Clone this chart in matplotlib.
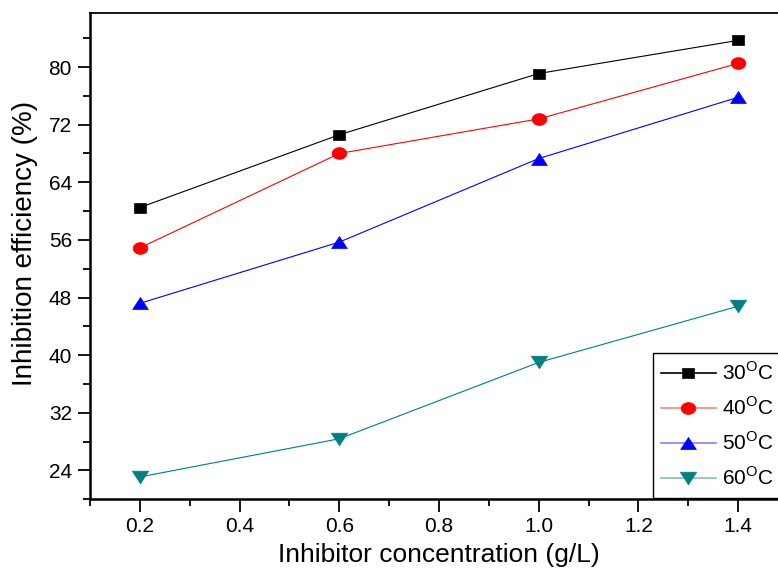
import matplotlib
matplotlib.use("Agg")
import matplotlib.pyplot as plt
from matplotlib.path import Path
from matplotlib.lines import Line2D
from matplotlib.ticker import MultipleLocator
import numpy as np

plt.rcParams['font.family'] = ['Liberation Sans', 'DejaVu Sans']
plt.rcParams['mathtext.fontset'] = 'custom'
plt.rcParams['mathtext.rm'] = 'Liberation Sans'

concentration = [0.2, 0.6, 1.0, 1.4]
eff_30 = [60.5, 70.6, 79.1, 83.7]
eff_40 = [54.9, 68.0, 72.8, 80.5]
eff_50 = [47.2, 55.7, 67.3, 75.8]
eff_60 = [23.1, 28.4, 39.0, 46.8]
labels = ['30$^{\\mathrm{O}}$C', '40$^{\\mathrm{O}}$C', '50$^{\\mathrm{O}}$C', '60$^{\\mathrm{O}}$C']
xticks = [0.2, 0.4, 0.6, 0.8, 1.0, 1.2, 1.4]
xtick_labels = ['0.2', '0.4', '0.6', '0.8', '1.0', '1.2', '1.4']

# horizontally stretched markers (as in the source image)
sq = Path([(-1.2, -1), (1.2, -1), (1.2, 1), (-1.2, 1), (-1.2, -1)],
          [Path.MOVETO, Path.LINETO, Path.LINETO, Path.LINETO, Path.CLOSEPOLY])
t = np.linspace(0, 2 * np.pi, 60)
ell = Path(np.column_stack([1.25 * np.cos(t), np.sin(t)]))
tri_up = Path([(0, 1), (-1.3, -1), (1.3, -1), (0, 1)],
              [Path.MOVETO, Path.LINETO, Path.LINETO, Path.CLOSEPOLY])
tri_dn = Path([(0, -1), (-1.3, 1), (1.3, 1), (0, -1)],
              [Path.MOVETO, Path.LINETO, Path.LINETO, Path.CLOSEPOLY])

series = [
    (eff_30, '#000000', '#000000', sq, 8.9),
    (eff_40, '#FF0000', '#FF8080', ell, 10.6),
    (eff_50, '#0000FF', '#8080FF', tri_up, 11.3),
    (eff_60, '#008080', '#80C0C0', tri_dn, 11.8),
]

fig = plt.figure(figsize=(7.78, 5.72), dpi=100)
W, H = 778, 572
ax = fig.add_axes([90 / W, (H - 499.3) / H, (788 - 90) / W, (499.3 - 13) / H])

handles = []
for (vals, c, lc, m, ms), lab in zip(series, labels):
    ax.plot(concentration, vals, color=c, lw=0.8, marker=m, ms=ms,
            mfc=c, mec=c, mew=0.5, clip_on=False, zorder=3)
    handles.append(Line2D([], [], color=lc, lw=1.2, marker=m, ms=ms,
                          mfc=c, mec=c, mew=0.5, label=lab))

ax.set_xlim(0.1, 1.5)
ax.set_ylim(20, 87.5)
ax.xaxis.set_minor_locator(MultipleLocator(0.1))
ax.yaxis.set_major_locator(MultipleLocator(8))
ax.yaxis.set_minor_locator(MultipleLocator(4))
ax.set_xticks(xticks)
ax.set_xticklabels(xtick_labels)
ax.tick_params(which='major', direction='out', length=9, width=1.3, labelsize=15, pad=4)
ax.tick_params(which='minor', direction='out', length=5, width=1.3)
for s in ax.spines.values():
    s.set_linewidth(1.3)
ax.spines['left'].set_linewidth(1.8)
ax.spines['bottom'].set_linewidth(1.8)

ax.set_xlabel('Inhibitor concentration (g/L)', fontsize=19, labelpad=5)
ax.set_ylabel('Inhibition efficiency (%)', fontsize=20)
ax.yaxis.set_label_coords(-0.075, 0.527)

leg = fig.legend(handles=handles, loc='upper left',
                 bbox_to_anchor=(653 / W, (H - 353) / H), bbox_transform=fig.transFigure,
                 fontsize=15, frameon=True, fancybox=False, framealpha=1,
                 edgecolor='black', handlelength=2.6, handletextpad=0.3,
                 labelspacing=0.6, borderpad=0.4, borderaxespad=0)
leg.get_frame().set_linewidth(1.0)

fig.savefig('out.png', dpi=100)
